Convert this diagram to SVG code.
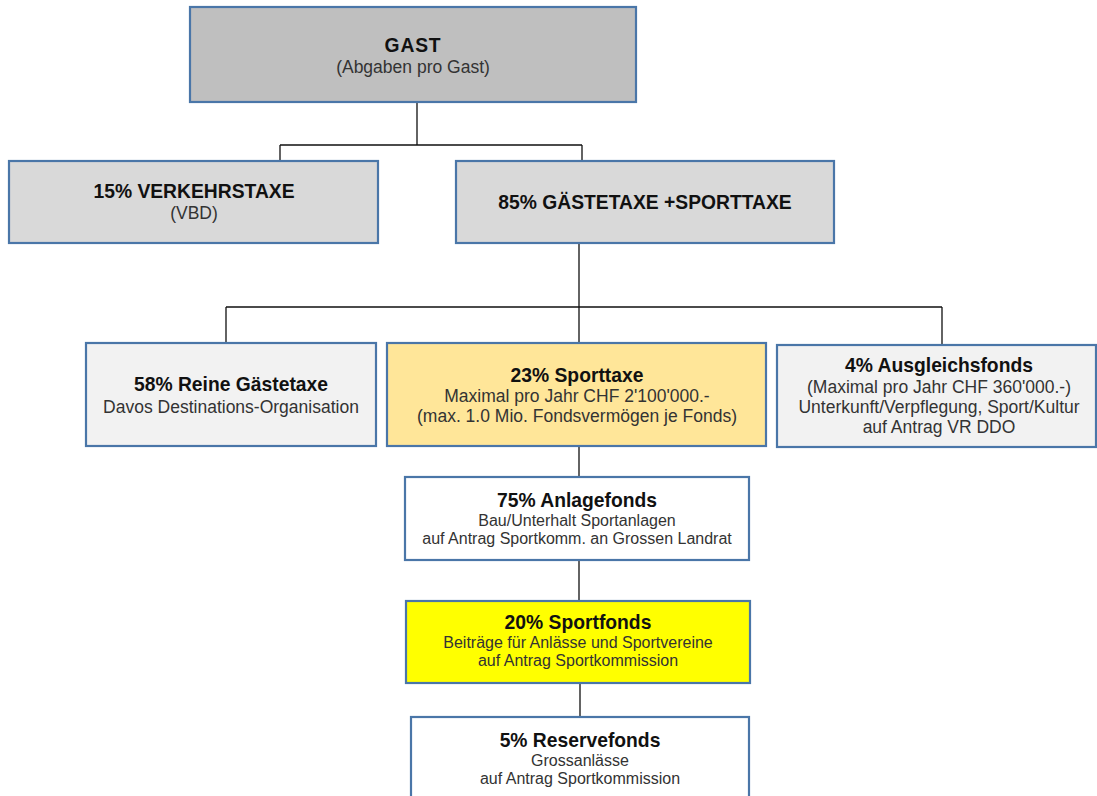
<svg xmlns="http://www.w3.org/2000/svg" width="1097" height="796" viewBox="0 0 1097 796">
<style>
.box{stroke:#4A76A8;stroke-width:2.2}
.t{font-family:"Liberation Sans",Arial,sans-serif;font-weight:bold;font-size:19.3px;fill:#111;text-anchor:middle}
.s{font-family:"Liberation Sans",Arial,sans-serif;font-size:17.5px;fill:#333;text-anchor:middle}
.s2{font-family:"Liberation Sans",Arial,sans-serif;font-size:16px;fill:#333;text-anchor:middle}
.c{stroke:#111;stroke-width:1.3;fill:none}
</style>
<rect width="1097" height="796" fill="#fff"/>
<g id="connectors">
<path class="c" d="M417 102V145M280 145H582M280 145V161M582 145V161"/>
<path class="c" d="M579 243V343M226 307H942M226 307V343M942 307V345"/>
<path class="c" d="M579 446V477M579 560V601M580 683V717"/>
</g>
<g id="gast">
<rect class="box" x="190" y="7" width="446" height="95" fill="#BFBFBF"/>
<text class="t" x="413" y="52" letter-spacing="0.8">GAST</text>
<text class="s" x="413" y="73">(Abgaben pro Gast)</text>
</g>
<g id="verkehrstaxe">
<rect class="box" x="9" y="161" width="369" height="82" fill="#D9D9D9"/>
<text class="t" x="194" y="198">15% VERKEHRSTAXE</text>
<text class="s" x="194" y="219">(VBD)</text>
</g>
<g id="gaestetaxe-sporttaxe">
<rect class="box" x="456" y="161" width="378" height="82" fill="#D9D9D9"/>
<text class="t" x="645" y="209">85% GÄSTETAXE +SPORTTAXE</text>
</g>
<g id="reine-gaestetaxe">
<rect class="box" x="86" y="343" width="290" height="103" fill="#F2F2F2"/>
<text class="t" x="231" y="391">58% Reine Gästetaxe</text>
<text class="s" x="231" y="413">Davos Destinations-Organisation</text>
</g>
<g id="sporttaxe">
<rect class="box" x="387" y="343" width="379" height="103" fill="#FFE699"/>
<text class="t" x="577" y="382">23% Sporttaxe</text>
<text class="s" x="577" y="402">Maximal pro Jahr CHF 2'100'000.-</text>
<text class="s" x="577" y="422">(max. 1.0 Mio. Fondsvermögen je Fonds)</text>
</g>
<g id="ausgleichsfonds">
<rect class="box" x="777" y="345" width="319" height="102" fill="#F2F2F2"/>
<text class="t" x="939" y="372">4% Ausgleichsfonds</text>
<text class="s" x="939" y="392.5">(Maximal pro Jahr CHF 360'000.-)</text>
<text class="s" x="939" y="413">Unterkunft/Verpflegung, Sport/Kultur</text>
<text class="s" x="939" y="433">auf Antrag VR DDO</text>
</g>
<g id="anlagefonds">
<rect class="box" x="405" y="477" width="344" height="83" fill="#FFFFFF"/>
<text class="t" x="577" y="507">75% Anlagefonds</text>
<text class="s2" x="577" y="525.5">Bau/Unterhalt Sportanlagen</text>
<text class="s2" x="577" y="544">auf Antrag Sportkomm. an Grossen Landrat</text>
</g>
<g id="sportfonds">
<rect class="box" x="406" y="601" width="344" height="82" fill="#FFFF00"/>
<text class="t" x="578" y="629">20% Sportfonds</text>
<text class="s2" x="578" y="648">Beiträge für Anlässe und Sportvereine</text>
<text class="s2" x="578" y="666">auf Antrag Sportkommission</text>
</g>
<g id="reservefonds">
<rect class="box" x="411" y="717" width="338" height="100" fill="#FFFFFF"/>
<text class="t" x="580" y="747">5% Reservefonds</text>
<text class="s2" x="580" y="766">Grossanlässe</text>
<text class="s2" x="580" y="784">auf Antrag Sportkommission</text>
</g>
</svg>
